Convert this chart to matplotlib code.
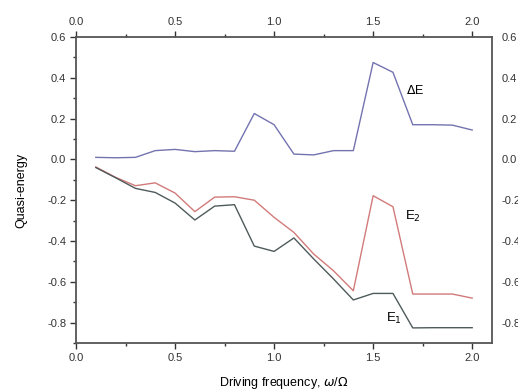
import matplotlib
matplotlib.use("Agg")
import matplotlib.pyplot as plt
from matplotlib.ticker import MultipleLocator

plt.rcParams['font.family'] = ['Liberation Sans', 'DejaVu Sans']

# driving frequency omega/Omega
freq = [0.1, 0.2, 0.3, 0.4, 0.5, 0.6, 0.7, 0.8, 0.9, 1.0,
        1.1, 1.2, 1.3, 1.4, 1.5, 1.6, 1.7, 1.8, 1.9, 2.0]
# quasi-energy gap
delta_e = [0.01, 0.008, 0.01, 0.043, 0.049, 0.038, 0.043, 0.04, 0.225, 0.17,
           0.026, 0.022, 0.043, 0.043, 0.475, 0.427, 0.17, 0.17, 0.168, 0.144]
# upper level
e2 = [-0.037, -0.088, -0.129, -0.115, -0.165, -0.256, -0.185, -0.183, -0.2, -0.284,
      -0.358, -0.464, -0.546, -0.644, -0.178, -0.232, -0.66, -0.66, -0.66, -0.68]
# lower level
e1 = [-0.04, -0.09, -0.142, -0.162, -0.214, -0.297, -0.229, -0.222, -0.425, -0.451,
      -0.385, -0.488, -0.586, -0.689, -0.657, -0.657, -0.826, -0.825, -0.825, -0.825]

fig = plt.figure(figsize=(5.18, 3.89), dpi=100)
ax = fig.add_axes([76 / 518, 1 - 343 / 389, (492 - 76) / 518, (343 - 37) / 389])

ax.plot(freq, delta_e, color='#7373b0', lw=1.0)
ax.plot(freq, e2, color='#d27a7a', lw=1.0)
ax.plot(freq, e1, color='#4f5a5a', lw=1.0)

ax.text(1.665, 0.34, r'$\Delta$E', fontsize=9, va='center', ha='left')
ax.text(1.66, -0.28, r'E$_2$', fontsize=9.5, va='center', ha='left')
ax.text(1.565, -0.78, r'E$_1$', fontsize=9.5, va='center', ha='left')

ax.set_xlim(0, 2.1)
ax.set_ylim(-0.9, 0.6)
ax.xaxis.set_major_locator(MultipleLocator(0.5))
ax.xaxis.set_minor_locator(MultipleLocator(0.25))
ax.yaxis.set_major_locator(MultipleLocator(0.2))
ax.yaxis.set_minor_locator(MultipleLocator(0.1))
ax.xaxis.set_major_formatter(lambda v, p: f"{v:.1f}")
ax.yaxis.set_major_formatter(lambda v, p: f"{v:.1f}")

ax.tick_params(which='both', direction='out', top=True, right=True,
               labeltop=True, labelright=True, labelsize=8, colors='#333333')
ax.tick_params(which='major', length=4, width=1)
ax.tick_params(axis='y', which='major', pad=6)
ax.tick_params(axis='y', which='both', right=False)
ax.tick_params(axis='y', which='major', labelright=True, pad=3)
ax.tick_params(which='minor', length=2, width=1)
for s in ax.spines.values():
    s.set_color('#555555')
    s.set_linewidth(1.3)

ax.set_xlabel(r'Driving frequency, $\omega$/$\Omega$', fontsize=9, labelpad=8)
ax.set_ylabel('Quasi-energy', fontsize=9, labelpad=14)

fig.savefig('out.png', dpi=100)
